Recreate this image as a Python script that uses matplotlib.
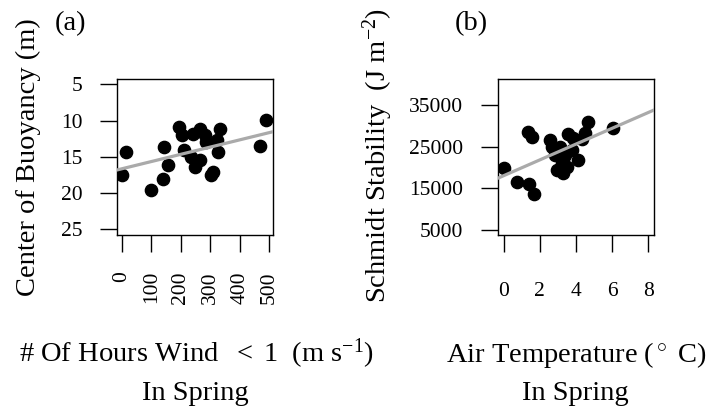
import numpy as np
import matplotlib
matplotlib.use('Agg')
import matplotlib.pyplot as plt

plt.rcParams['font.family'] = ['Liberation Serif', 'DejaVu Serif']
plt.rcParams['mathtext.fontset'] = 'custom'
plt.rcParams['mathtext.rm'] = 'Liberation Serif'
plt.rcParams['mathtext.it'] = 'Liberation Serif:italic'

# panel (a): hours of calm wind vs center of buoyancy
wind_hours = [2, 14.5, 98, 141, 144, 158, 194, 203, 212, 234, 248, 242, 265, 265,
              282, 284, 302, 310, 321, 333, 327, 468, 490]
buoyancy = [17.5, 14.4, 19.6, 18.0, 13.7, 16.1, 10.85, 12.0, 14.1, 15.0, 16.4, 11.8,
            11.1, 15.4, 12.0, 12.9, 17.5, 17.1, 12.7, 11.2, 14.3, 13.5, 9.9]
fit_a = (16.66, -0.01)  # intercept, slope

# panel (b): air temperature vs schmidt stability
air_temp = [0.03, 0.72, 1.36, 1.55, 1.42, 1.69, 2.56, 2.69, 2.84, 2.93, 3.11, 3.2,
            3.3, 3.39, 3.48, 3.54, 3.76, 3.85, 4.09, 4.35, 4.5, 4.65, 6.06, 3.0, 3.3]
schmidt = [19800, 16450, 28600, 27250, 15970, 13570, 26600, 25000, 23000, 19400,
           25000, 21000, 18600, 23000, 20200, 27970, 24200, 27000, 21800, 26840,
           28350, 31000, 29560, 24000, 21800]
fit_b = (18036, 1897)

xticks_a = [0, 100, 200, 300, 400, 500]
yticks_a = [5, 10, 15, 20, 25]
xticks_b = [0, 2, 4, 6, 8]
yticks_b = [5000, 15000, 25000, 35000]

W, H = 724, 409
fig = plt.figure(figsize=(W / 100, H / 100), dpi=100)

ax1 = fig.add_axes([117 / W, 1 - 235 / H, 156 / W, 156 / H])
ax2 = fig.add_axes([497.7 / W, 1 - 235 / H, 156.3 / W, 156 / H])

for ax in (ax1, ax2):
    for s in ax.spines.values():
        s.set_linewidth(1.0)
    ax.tick_params(length=12.5, width=1.0, labelsize=15.5, direction='out')

ax1.scatter(wind_hours, buoyancy, s=78, color='black', zorder=2)
ax1.axline((0, fit_a[0]), slope=fit_a[1], color='#aaaaaa', lw=2.3, zorder=3)
ax1.set_xlim(-15.9, 512)
ax1.set_ylim(25.79, 4.27)
ax1.set_xticks(xticks_a)
ax1.set_yticks(yticks_a)
ax1.tick_params(axis='x', pad=13.5, labelrotation=90)
ax1.tick_params(axis='y', pad=12.5)

ax2.scatter(air_temp, schmidt, s=78, color='black', zorder=2)
ax2.axline((0, fit_b[0]), slope=fit_b[1], color='#aaaaaa', lw=2.3, zorder=3)
ax2.set_xlim(-0.33, 8.31)
ax2.set_ylim(3800, 41240)
ax2.set_xticks(xticks_b)
ax2.set_yticks(yticks_b)
ax2.tick_params(axis='x', pad=21)
ax2.tick_params(axis='y', pad=12.5)

fs = 20.5
fig.text(70 / W, 1 - 24 / H, '(a)', fontsize=fs, ha='center', va='center')
fig.text(471 / W, 1 - 24 / H, '(b)', fontsize=fs, ha='center', va='center')

fig.text(28 / W, 1 - 157 / H, 'Center of Buoyancy (m)', fontsize=fs,
         rotation=90, ha='center', va='center')
fig.text(378 / W, 1 - 155 / H, r'Schmidt Stability  (J m$^{-2}$)', fontsize=fs,
         rotation=90, ha='center', va='center')

fig.text(196 / W, 1 - 362 / H, r'# Of Hours Wind  $<$ 1  (m s$^{-1}$)', fontsize=fs,
         ha='center', va='baseline')
fig.text(195 / W, 1 - 400 / H, 'In Spring', fontsize=fs, ha='center', va='baseline')
fig.text(576 / W, 1 - 362 / H, r'Air Temperature ($^\circ$ C)', fontsize=fs,
         ha='center', va='baseline')
fig.text(575 / W, 1 - 400 / H, 'In Spring', fontsize=fs, ha='center', va='baseline')

plt.savefig('out.png', dpi=100)
